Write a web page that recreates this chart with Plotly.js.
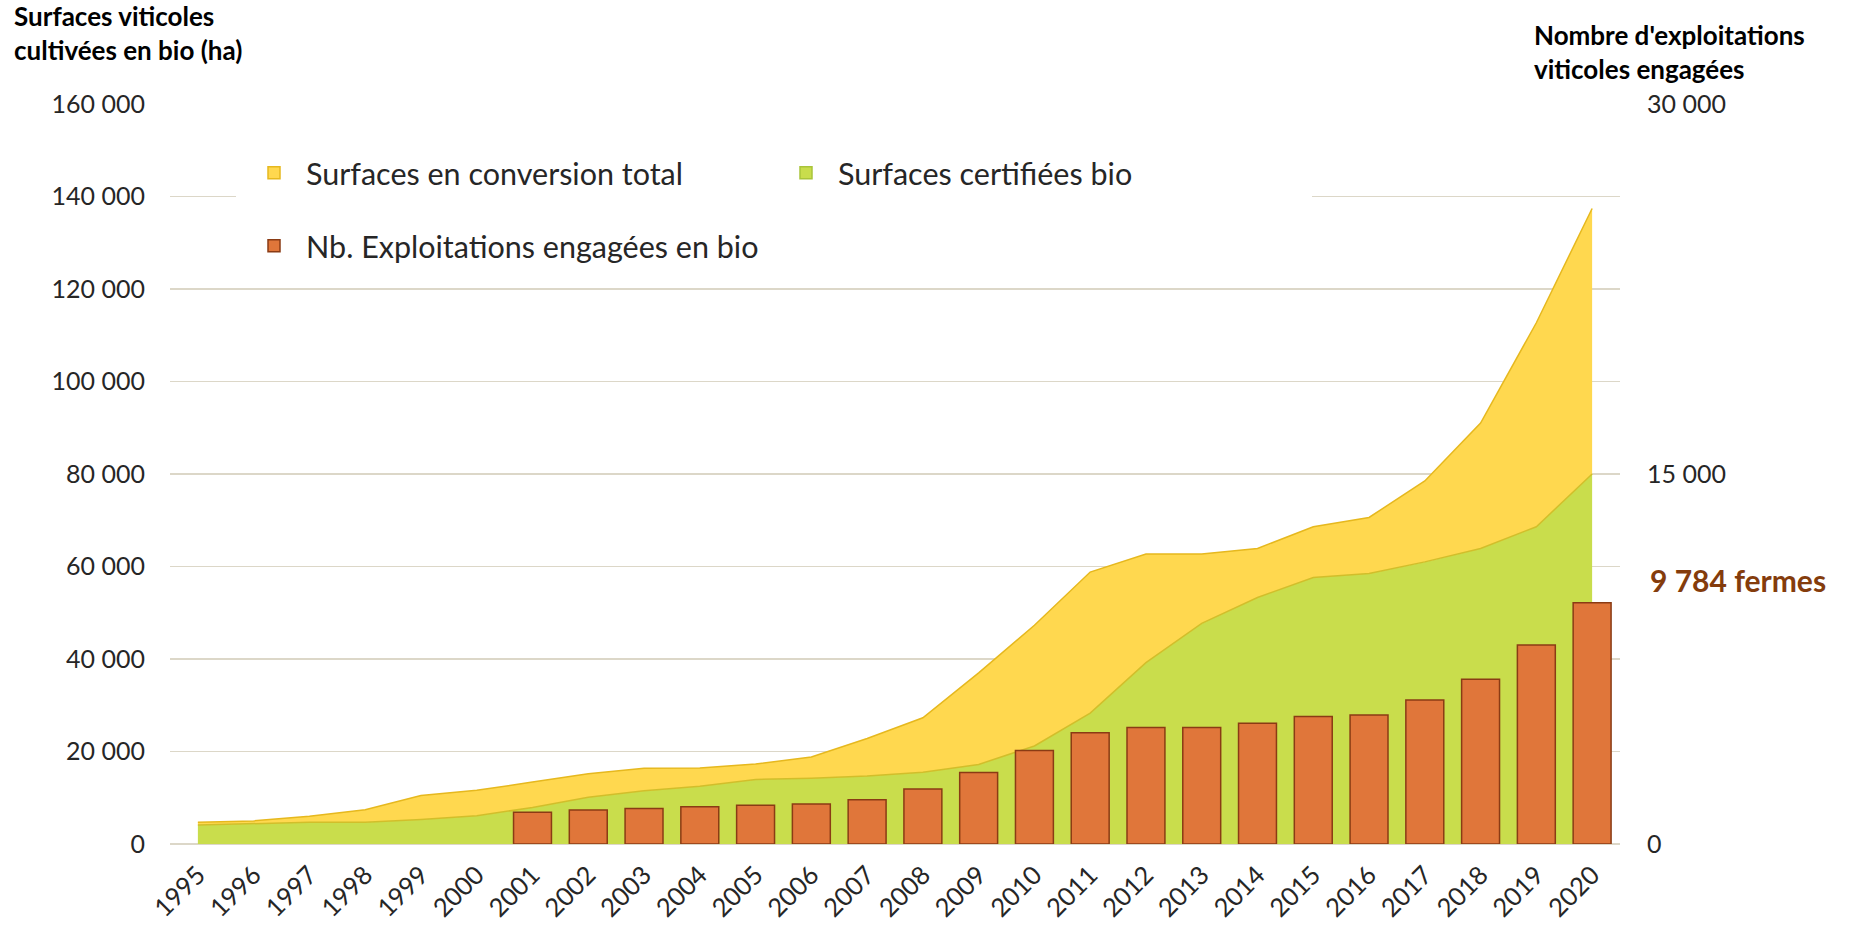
<!DOCTYPE html>
<html>
<head>
<meta charset="utf-8">
<script src="https://cdn.plot.ly/plotly-3.0.1.min.js"></script>
<style>
html,body{margin:0;padding:0;background:#ffffff;}
#chart{width:1849px;height:927px;}
</style>
</head>
<body>
<div id="chart"></div>
<script>
const years = ['1995','1996','1997','1998','1999','2000','2001','2002','2003','2004','2005','2006','2007',
  '2008','2009','2010','2011','2012','2013','2014','2015','2016','2017','2018','2019','2020'];

// Surfaces certifiées bio (ha)
const surfacesCertifiees = [4100,4450,4700,4700,5300,6100,7900,10100,11500,12500,13950,14200,14700,
  15500,17200,21200,28300,39200,47700,53300,57600,58500,61000,63900,68600,80000];

// Surfaces en conversion (ha), empilées au-dessus des surfaces certifiées
const surfacesConversion = [600,550,1300,2700,5200,5500,5500,5100,4900,3950,3350,4600,8100,
  11800,19800,26100,30500,23500,15000,10600,11000,12100,17500,27100,44100,57400];

// Nombre d'exploitations viticoles engagées en bio
const nbExploitations = [null,null,null,null,null,null,1290,1380,1440,1510,1570,1620,1790,
  2230,2900,3790,4510,4720,4720,4900,5170,5230,5840,6680,8070,9784];

const leftTicks = [0,20000,40000,60000,80000,100000,120000,140000,160000];
const rightTicks = [0,15000,30000];

const nameConversion = 'Surfaces en conversion total';
const nameCertifiees = 'Surfaces certifiées bio';
const nameExploit = 'Nb. Exploitations engagées en bio';
const leftTitle = 'Surfaces viticoles<br>cultivées en bio (ha)';
const rightTitle = "Nombre d'exploitations<br>viticoles engagées";
const lastLabel = '9 784 fermes';

const FONT = 'Lato, "Open Sans", sans-serif';
const TXT = '#262626';
const GRID = '#DCD7C8';
const YELLOW = '#FFD84F', YELLOW_LINE = '#E6B81E';
const GREEN = '#C9DD4C', GREEN_LINE = '#D2BE2A';
const ORANGE = '#E0763A', ORANGE_LINE = '#8A3B14';

const data = [
  {type:'scatter', mode:'lines', x:years, y:surfacesCertifiees, stackgroup:'surf',
   name:nameCertifiees, fillcolor:GREEN, line:{color:GREEN_LINE, width:1.5}, showlegend:false,
   xaxis:'x', yaxis:'y'},
  {type:'scatter', mode:'lines', x:years, y:surfacesConversion, stackgroup:'surf',
   name:nameConversion, fillcolor:YELLOW, line:{color:YELLOW_LINE, width:1.5}, showlegend:false,
   xaxis:'x', yaxis:'y'},
  // legend-only entries (square swatches, as in the original)
  {type:'bar', x:[years[0]], y:[null], name:nameConversion, legend:'legend',
   marker:{color:YELLOW, line:{color:YELLOW_LINE, width:1.5}}, xaxis:'x', yaxis:'y'},
  {type:'bar', x:[years[0]], y:[null], name:nameCertifiees, legend:'legend',
   marker:{color:GREEN, line:{color:'#A9C43A', width:1.5}}, xaxis:'x', yaxis:'y'},
  {type:'bar', x:years, y:nbExploitations, name:nameExploit, legend:'legend2', width:0.68,
   marker:{color:ORANGE, line:{color:ORANGE_LINE, width:1.5}}, xaxis:'x', yaxis:'y2'}
];

const W = 1849, H = 927;
const L = 170, R = 1620, T = 104, B = 844;
const px = v => (v - L) / (R - L);
const py = v => (B - v) / (B - T);

const layout = {
  width: W, height: H,
  margin: {l: L, r: W - R, t: T, b: H - B, pad: 0},
  paper_bgcolor: '#ffffff', plot_bgcolor: '#ffffff',
  separators: ', ',
  font: {family: FONT, color: TXT, size: 24},
  barmode: 'overlay',
  xaxis: {
    type: 'category', range: [-0.5, 25.5], tickangle: -45,
    showgrid: false, showline: false, zeroline: false, ticks: '',
    tickfont: {family: FONT, size: 25.5, color: TXT}, ticklabelstandoff: 10
  },
  yaxis: {
    range: [0, 160000], tickvals: leftTicks, tickformat: ',d',
    showgrid: true, gridcolor: GRID, gridwidth: 1.5,
    zeroline: true, zerolinecolor: GRID, zerolinewidth: 1.5,
    showline: false, ticks: '', ticklabelstandoff: 24,
    tickfont: {family: FONT, size: 25, color: TXT}
  },
  yaxis2: {
    overlaying: 'y', side: 'right', range: [0, 30000], tickvals: rightTicks, tickformat: ',d',
    showgrid: false, zeroline: false, showline: false, ticks: '', ticklabelstandoff: 26,
    tickfont: {family: FONT, size: 25, color: TXT}
  },
  legend: {
    orientation: 'h', xref: 'paper', yref: 'paper',
    x: px(236), xanchor: 'left', y: py(173), yanchor: 'middle',
    entrywidth: 463, entrywidthmode: 'pixels', itemwidth: 54,
    bgcolor: '#ffffff', bordercolor: '#ffffff', borderwidth: 6, traceorder: 'normal',
    font: {family: FONT, size: 30.5, color: TXT}
  },
  legend2: {
    orientation: 'h', xref: 'paper', yref: 'paper',
    x: px(236), xanchor: 'left', y: py(246), yanchor: 'middle',
    itemwidth: 54, bgcolor: '#ffffff', bordercolor: '#ffffff', borderwidth: 6,
    font: {family: FONT, size: 30.5, color: TXT}
  },
  annotations: [
    {text: '<b>' + leftTitle + '</b>', xref: 'paper', yref: 'paper',
     x: px(12), y: py(-2), xanchor: 'left', yanchor: 'top', align: 'left', showarrow: false,
     font: {family: FONT, size: 26, color: '#000000'}},
    {text: '<b>' + rightTitle + '</b>', xref: 'paper', yref: 'paper',
     x: px(1532), y: py(17), xanchor: 'left', yanchor: 'top', align: 'left', showarrow: false,
     font: {family: FONT, size: 26, color: '#000000'}},
    {text: '<b>' + lastLabel + '</b>', xref: 'paper', yref: 'paper',
     x: px(1648), y: py(580), xanchor: 'left', yanchor: 'middle', align: 'left', showarrow: false,
     font: {family: FONT, size: 30, color: '#843C0C'}}
  ]
};

Plotly.newPlot('chart', data, layout, {displayModeBar: false, staticPlot: true});
</script>
</body>
</html>
